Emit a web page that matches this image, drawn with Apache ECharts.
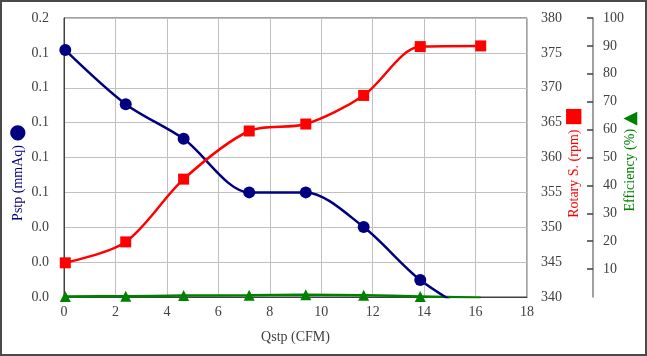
<!DOCTYPE html>
<html>
<head>
<meta charset="utf-8">
<script src="https://cdn.jsdelivr.net/npm/echarts@6/dist/echarts.min.js"></script>
<style>
html,body{margin:0;padding:0;background:#fff;}
#c{width:647px;height:356px;box-sizing:border-box;border:2px solid #4a4a4a;}
</style>
</head>
<body>
<div id="c"></div>
<script>
// Data
var qstp = [0.05, 2.4, 4.65, 7.2, 9.4, 11.65, 13.85, 16.2];
var pstp = [0.1416, 0.1106, 0.0907, 0.0600, 0.0600, 0.0401, 0.0097, -0.012];
var rpm = [344.9, 347.9, 356.9, 363.8, 364.8, 368.9, 375.9, 376.0];
var efficiency = [0.2, 0.3, 0.5, 0.6, 0.8, 0.6, 0.2, -0.3];

var xTicks = {min: 0, max: 18, interval: 2};
var pTicks = {min: 0, max: 0.16, interval: 0.02};
var rTicks = {min: 340, max: 380, interval: 5};
var eTicks = {min: 0, max: 100, interval: 10};

function pairs(xs, ys){ return xs.map(function(x,i){ return [x, ys[i]]; }); }

var font = 'Liberation Serif';
var chart = echarts.init(document.getElementById('c'), null, {renderer:'canvas'});
chart.setOption({
  animation: false,
  backgroundColor: '#fff',
  grid: {left: 62, top: 16, width: 463, height: 279, show: true, borderColor: '#404040', borderWidth: 1,
    backgroundColor: 'transparent', containLabel: false, outerBoundsMode: 'none'},
  xAxis: {
    type: 'value', min: xTicks.min, max: xTicks.max, interval: xTicks.interval,
    name: 'Qstp (CFM)', nameLocation: 'middle', nameGap: 33, nameMoveOverlap: false,
    nameTextStyle: {fontFamily: font, fontSize: 14, color: '#404040'},
    axisLine: {show: true, lineStyle: {color: '#404040', width: 1}},
    axisTick: {show: false},
    axisLabel: {fontFamily: font, fontSize: 14, color: '#404040', margin: 8},
    splitLine: {show: true, lineStyle: {color: '#c0c0c0', width: 1}}
  },
  yAxis: [
    {
      type: 'value', position: 'left', min: pTicks.min, max: pTicks.max, interval: pTicks.interval,
      name: 'Pstp (mmAq) {s|●}', nameLocation: 'middle', nameGap: 36, nameRotate: 90, nameMoveOverlap: false,
      nameTextStyle: {fontFamily: font, fontSize: 14, color: '#000080', padding: [0, 30, 0, 0],
        rich: {s: {fontSize: 20, color: '#000080', fontFamily: 'DejaVu Sans'}}},
      axisLine: {show: true, lineStyle: {color: '#404040', width: 1}},
      axisTick: {show: false},
      axisLabel: {fontFamily: font, fontSize: 14, color: '#404040', margin: 15,
        formatter: function(v){ return v.toFixed(1); }},
      splitLine: {show: true, lineStyle: {color: '#c0c0c0', width: 1}}
    },
    {
      type: 'value', position: 'right', min: rTicks.min, max: rTicks.max, interval: rTicks.interval,
      name: 'Rotary S. (rpm) {s|■}', nameLocation: 'middle', nameGap: 37, nameRotate: 90, nameMoveOverlap: false,
      nameTextStyle: {fontFamily: font, fontSize: 14, color: '#ff0000', padding: [0, 10, 0, 0],
        rich: {s: {fontSize: 20, color: '#ff0000', fontFamily: 'DejaVu Sans'}}},
      axisLine: {show: false},
      axisTick: {show: false},
      axisLabel: {fontFamily: font, fontSize: 14, color: '#404040', margin: 14},
      splitLine: {show: false}
    },
    {
      type: 'value', position: 'right', offset: 66, min: eTicks.min, max: eTicks.max, interval: eTicks.interval,
      name: 'Efficiency (%) {s|▲}', nameLocation: 'middle', nameGap: 28, nameRotate: 90, nameMoveOverlap: false,
      nameTextStyle: {fontFamily: font, fontSize: 14, color: '#008000', padding: [0, 8, 0, 0],
        rich: {s: {fontSize: 18, color: '#008000', fontFamily: 'DejaVu Sans'}}},
      axisLine: {show: true, lineStyle: {color: '#808080', width: 1.5}},
      axisTick: {show: true, inside: true, length: 6, lineStyle: {color: '#404040', width: 1.5}},
      axisLabel: {fontFamily: font, fontSize: 14, color: '#404040', margin: 10, showMinLabel: false,
        formatter: function(v){ return v === 0 ? '' : String(v); }},
      splitLine: {show: false}
    }
  ],
  series: [
    {
      type: 'line', name: 'Efficiency', yAxisIndex: 2, data: pairs(qstp, efficiency),
      smooth: 0.3, clip: true, symbol: 'triangle', symbolSize: 11,
      lineStyle: {color: '#008000', width: 2.5}, itemStyle: {color: '#008000'}, z: 3
    },
    {
      type: 'line', name: 'Pstp', yAxisIndex: 0, data: pairs(qstp, pstp),
      smooth: 0.3, clip: true, symbol: 'circle', symbolSize: 12,
      lineStyle: {color: '#000080', width: 2.5}, itemStyle: {color: '#000080'}, z: 4
    },
    {
      type: 'line', name: 'Rotary', yAxisIndex: 1, data: pairs(qstp, rpm),
      smooth: 0.3, clip: true, symbol: 'rect', symbolSize: 11,
      lineStyle: {color: '#ff0000', width: 2.5}, itemStyle: {color: '#ff0000'}, z: 5
    }
  ]
});
</script>
</body>
</html>
